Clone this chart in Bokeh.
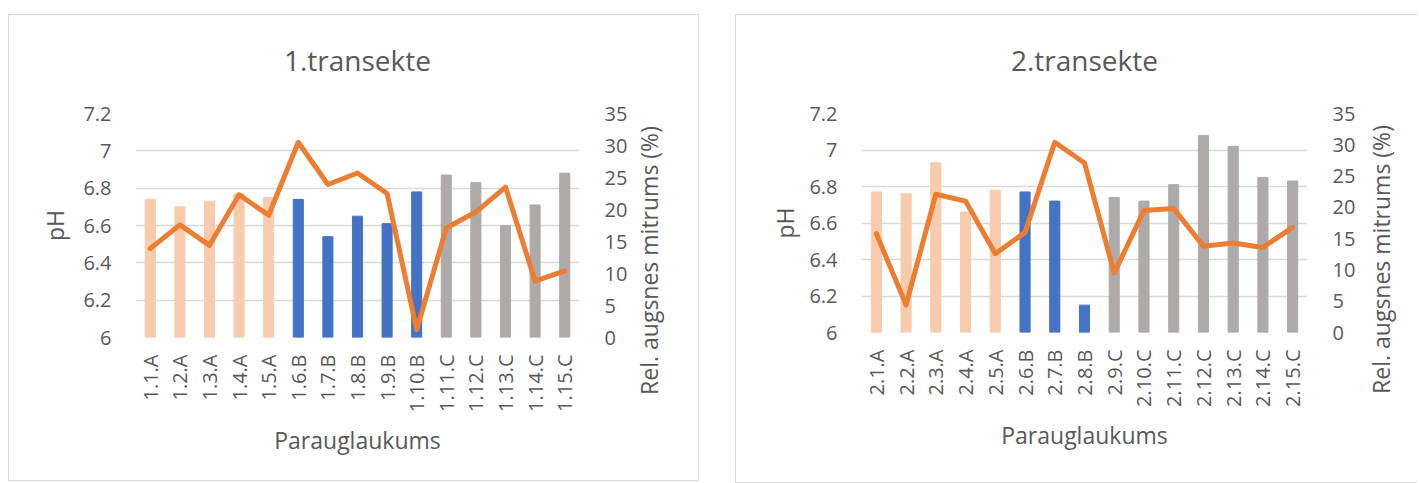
import math
from bokeh.plotting import figure
from bokeh.models import (ColumnDataSource, FactorRange, Range1d, LinearAxis, FixedTicker,
                          Label, Spacer)
from bokeh.layouts import row, column
from bokeh.embed import file_html
from bokeh.resources import INLINE

# ---------------- data ----------------
sites_1 = ["1.1.A", "1.2.A", "1.3.A", "1.4.A", "1.5.A", "1.6.B", "1.7.B", "1.8.B",
           "1.9.B", "1.10.B", "1.11.C", "1.12.C", "1.13.C", "1.14.C", "1.15.C"]
ph_1 = [6.74, 6.70, 6.73, 6.77, 6.75, 6.74, 6.54, 6.65, 6.61, 6.78, 6.87, 6.83, 6.60, 6.71, 6.88]
moist_1 = [13.9, 17.6, 14.4, 22.3, 19.1, 30.5, 23.9, 25.7, 22.5, 1.2, 17.1, 19.6, 23.5, 8.8, 10.4]

sites_2 = ["2.1.A", "2.2.A", "2.3.A", "2.4.A", "2.5.A", "2.6.B", "2.7.B", "2.8.B",
           "2.9.C", "2.10.C", "2.11.C", "2.12.C", "2.13.C", "2.14.C", "2.15.C"]
ph_2 = [6.77, 6.76, 6.93, 6.66, 6.78, 6.77, 6.72, 6.15, 6.74, 6.72, 6.81, 7.08, 7.02, 6.85, 6.83]
moist_2 = [15.8, 4.4, 22.1, 21.0, 12.6, 16.0, 30.4, 27.1, 9.5, 19.5, 19.8, 13.8, 14.3, 13.6, 16.8]

ph_ticks = [6, 6.2, 6.4, 6.6, 6.8, 7, 7.2]
ph_labels = ["6", "6.2", "6.4", "6.6", "6.8", "7", "7.2"]
moist_ticks = [0, 5, 10, 15, 20, 25, 30, 35]

titles = ["1.transekte", "2.transekte"]
x_title = "Parauglaukums"
y_title = "pH"
y2_title = "Rel. augsnes mitrums (%)"

group_colors = {"A": "#F8CBAD", "B": "#4472C4", "C": "#AEAAAA"}
LINE_COLOR = "#ED7D31"
TEXT = "#595959"
GRID = "#D9D9D9"
FONT = "Open Sans"


def make_panel(title, sites, ph, moist, width, height, mbl, mbr, mbt, mbb, border,
               lab_x, lab_y, ylab_standoff):
    p = figure(x_range=FactorRange(*sites), y_range=Range1d(6, 7.2),
               width=width, height=height, output_backend="svg", toolbar_location=None,
               min_border_left=mbl, min_border_right=mbr, min_border_top=mbt,
               min_border_bottom=mbb)
    if border:
        p.styles = border
    p.outline_line_color = None
    p.background_fill_color = "white"
    p.border_fill_color = "white"

    src = ColumnDataSource(dict(site=sites, ph=ph, moist=moist,
                                color=[group_colors[s[-1]] for s in sites]))
    p.vbar(x="site", top="ph", bottom=6, width=0.34, color="color", source=src)

    p.extra_y_ranges = {"m": Range1d(0, 35)}
    p.line(x="site", y="moist", y_range_name="m", source=src, line_color=LINE_COLOR,
           line_width=5, line_join="round", line_cap="round")

    p.xgrid.grid_line_color = None
    p.ygrid.grid_line_color = GRID
    p.ygrid.grid_line_width = 1.3
    p.yaxis.ticker = FixedTicker(ticks=ph_ticks)
    p.yaxis.major_label_overrides = dict(zip(ph_ticks, ph_labels))

    ax2 = LinearAxis(y_range_name="m", ticker=FixedTicker(ticks=moist_ticks))
    p.add_layout(ax2, "right")

    for ax in [p.xaxis[0], p.yaxis[0], ax2]:
        ax.axis_line_color = None
        ax.major_tick_line_color = None
        ax.minor_tick_line_color = None
        ax.major_tick_out = 0
        ax.major_tick_in = 0
        ax.minor_tick_out = 0
        ax.major_label_text_font = FONT
        ax.major_label_text_font_size = "20px"
        ax.major_label_text_color = TEXT
        ax.axis_label_text_font = FONT
        ax.axis_label_text_font_size = "23px"
        ax.axis_label_text_font_style = "normal"
        ax.axis_label_text_color = TEXT

    p.yaxis[0].major_label_standoff = 24
    p.yaxis[0].axis_label = y_title
    p.yaxis[0].axis_label_standoff = ylab_standoff
    ax2.major_label_standoff = 25
    p.xaxis[0].major_label_orientation = math.pi / 2
    p.xaxis[0].major_label_standoff = 17
    p.xaxis[0].axis_label = x_title
    p.xaxis[0].axis_label_standoff = 9

    frame_w = width - mbl - mbr
    ttl = Label(x=frame_w / 2, y=54, x_units="screen", y_units="screen", text=title,
                text_align="center", text_baseline="middle",
                text_font=FONT, text_font_size="28px", text_color=TEXT)
    p.add_layout(ttl, "above")

    lab = Label(x=lab_x, y=lab_y, x_units="screen", y_units="screen", text=y2_title,
                angle=math.pi / 2, text_align="center", text_baseline="middle",
                text_font=FONT, text_font_size="23px", text_color=TEXT)
    p.add_layout(lab, "right")
    return p


B = "1px solid #D9D9D9"
border1 = {"border": B}
border2 = {"border-left": B, "border-top": B, "border-bottom": B}

p1 = make_panel(titles[0], sites_1, ph_1, moist_1, 691, 467, 126, 121, 98, 145, border1,
                18, 77, 9)
p2 = make_panel(titles[1], sites_2, ph_2, moist_2, 681, 462, 125, 110, 98, 145, None,
                22, 73, 5)
panel2 = column(p2, Spacer(width=681, height=5), styles=border2)

layout = column(Spacer(width=10, height=14),
                row(Spacer(width=8, height=10), p1, Spacer(width=36, height=10), panel2))

open("out.html", "w").write(file_html(layout, INLINE))
